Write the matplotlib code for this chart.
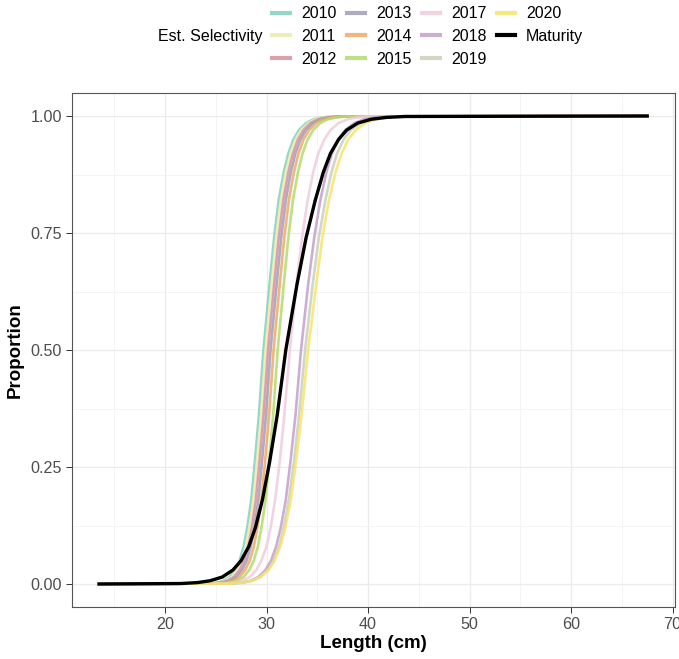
import matplotlib
matplotlib.use('Agg')
import matplotlib.pyplot as plt
from matplotlib.lines import Line2D

plt.rcParams['font.family'] = ['Liberation Sans', 'DejaVu Sans']

# proportion levels shared by every curve (y values)
levels = [0.0, 0.001, 0.003, 0.007, 0.015, 0.03, 0.05, 0.08, 0.12, 0.18, 0.26, 0.36,
          0.5, 0.64, 0.74, 0.82, 0.88, 0.92, 0.95, 0.97, 0.985, 0.993, 0.997, 0.999, 1.0]

# length (cm) at which each curve reaches the levels above
len_2010 = [13.5, 24.2, 25.05, 25.75, 26.35, 26.9, 27.35, 27.75, 28.1, 28.5, 28.85, 29.25,
            29.7, 30.3, 30.75, 31.2, 31.7, 32.15, 32.65, 33.2, 33.9, 34.65, 35.5, 36.6, 67.5]
len_2011 = [13.5, 24.4, 25.25, 25.95, 26.55, 27.1, 27.55, 27.95, 28.3, 28.7, 29.05, 29.45,
            29.9, 30.5, 30.95, 31.4, 31.9, 32.35, 32.85, 33.4, 34.1, 34.85, 35.7, 36.8, 67.5]
len_2012 = [13.5, 24.65, 25.5, 26.2, 26.8, 27.35, 27.8, 28.2, 28.55, 28.95, 29.3, 29.7,
            30.15, 30.75, 31.2, 31.65, 32.15, 32.6, 33.1, 33.65, 34.35, 35.1, 35.95, 37.05, 67.5]
len_2013 = [13.5, 24.9, 25.75, 26.45, 27.05, 27.6, 28.05, 28.45, 28.8, 29.2, 29.55, 29.95,
            30.4, 31.0, 31.45, 31.9, 32.4, 32.85, 33.35, 33.9, 34.6, 35.35, 36.2, 37.3, 67.5]
len_2014 = [13.5, 25.2, 26.05, 26.75, 27.35, 27.9, 28.35, 28.75, 29.1, 29.5, 29.85, 30.25,
            30.7, 31.3, 31.75, 32.2, 32.7, 33.15, 33.65, 34.2, 34.9, 35.65, 36.5, 37.6, 67.5]
len_2015 = [13.5, 25.6, 26.45, 27.15, 27.75, 28.3, 28.75, 29.15, 29.5, 29.9, 30.25, 30.65,
            31.1, 31.7, 32.15, 32.6, 33.1, 33.55, 34.05, 34.6, 35.3, 36.05, 36.9, 38.0, 67.5]
len_2017 = [13.5, 25.75, 26.8, 27.6, 28.35, 29.0, 29.5, 30.0, 30.4, 30.85, 31.3, 31.75,
            32.3, 32.95, 33.5, 34.05, 34.6, 35.1, 35.7, 36.3, 37.1, 38.0, 39.0, 40.25, 67.5]
len_2018 = [13.5, 26.5, 27.6, 28.45, 29.2, 29.9, 30.45, 30.95, 31.4, 31.9, 32.35, 32.85,
            33.4, 34.1, 34.7, 35.3, 35.9, 36.45, 37.1, 37.75, 38.65, 39.6, 40.65, 42.05, 67.5]
len_2019 = [13.5, 26.55, 27.7, 28.6, 29.4, 30.15, 30.7, 31.25, 31.7, 32.2, 32.7, 33.2,
            33.8, 34.55, 35.15, 35.8, 36.4, 36.95, 37.6, 38.3, 39.25, 40.25, 41.35, 42.8, 67.5]
len_2020 = [13.5, 26.35, 27.6, 28.55, 29.4, 30.2, 30.8, 31.35, 31.85, 32.4, 32.9, 33.45,
            34.1, 34.9, 35.5, 36.15, 36.8, 37.4, 38.05, 38.8, 39.75, 40.8, 41.95, 43.45, 67.5]
len_maturity = [13.5, 21.55, 23.2, 24.45, 25.65, 26.7, 27.5, 28.25, 28.9, 29.6, 30.3, 31.05,
                31.9, 33.0, 33.9, 34.8, 35.6, 36.3, 37.1, 37.9, 39.0, 40.3, 41.8, 43.65, 67.5]

years = ['2010', '2011', '2012', '2013', '2014', '2015', '2017', '2018', '2019', '2020']
year_lengths = [len_2010, len_2011, len_2012, len_2013, len_2014,
                len_2015, len_2017, len_2018, len_2019, len_2020]
colors = ['#80D0C0', '#ECECAE', '#D8919E', '#A39DB5', '#F0A866',
          '#B2DC6C', '#F2CCDD', '#C4A0CC', '#C9D0BC', '#F9E36A']

fig = plt.figure(figsize=(6.79, 6.59), dpi=100)
ax = fig.add_axes([71.6 / 679, 1 - 607.4 / 659, 603 / 679, 514.8 / 659])

for lens, col in zip(year_lengths, colors):
    ax.plot(lens, levels, color=col, lw=1.9, alpha=0.85)
ax.plot(len_maturity, levels, color='black', lw=2.4)

ax.set_xlim(10.8, 70.2)
ax.set_ylim(-0.05, 1.05)
ax.set_xticks([20, 30, 40, 50, 60, 70])
ax.set_xticks([15, 25, 35, 45, 55, 65], minor=True)
ax.set_yticks([0, 0.25, 0.5, 0.75, 1.0])
ax.set_yticklabels(['0.00', '0.25', '0.50', '0.75', '1.00'])
ax.set_yticks([0.125, 0.375, 0.625, 0.875], minor=True)
ax.grid(which='major', color='#EBEBEB', lw=0.9)
ax.grid(which='minor', color='#F3F3F3', lw=0.6)
ax.set_axisbelow(True)
ax.tick_params(which='major', length=4, width=0.7, color='#333333',
               labelcolor='#4D4D4D', labelsize=11.6, pad=3)
ax.tick_params(which='minor', length=0)
for sp in ax.spines.values():
    sp.set_color('#555555')
    sp.set_linewidth(0.8)

ax.set_xlabel('Length (cm)', fontsize=13.5, fontweight='bold', labelpad=2)
ax.set_ylabel('Proportion', fontsize=13.5, fontweight='bold', labelpad=5)

handles = [Line2D([], [], color=c, lw=3, alpha=0.85) for c in colors]
handles.append(Line2D([], [], color='black', lw=3))
labels = years + ['Maturity']
fig.legend(handles, labels, ncol=4, loc='center left',
           bbox_to_anchor=(272 / 679, 1 - 36.5 / 659), frameon=False,
           fontsize=11.5, handlelength=1.13, handletextpad=0.69,
           columnspacing=0.65, labelspacing=0.48, borderpad=0, borderaxespad=0)
fig.text(262 / 679, 1 - 36.5 / 659, 'Est. Selectivity', ha='right', va='center',
         fontsize=11.5)

fig.savefig('out.png', dpi=100)
